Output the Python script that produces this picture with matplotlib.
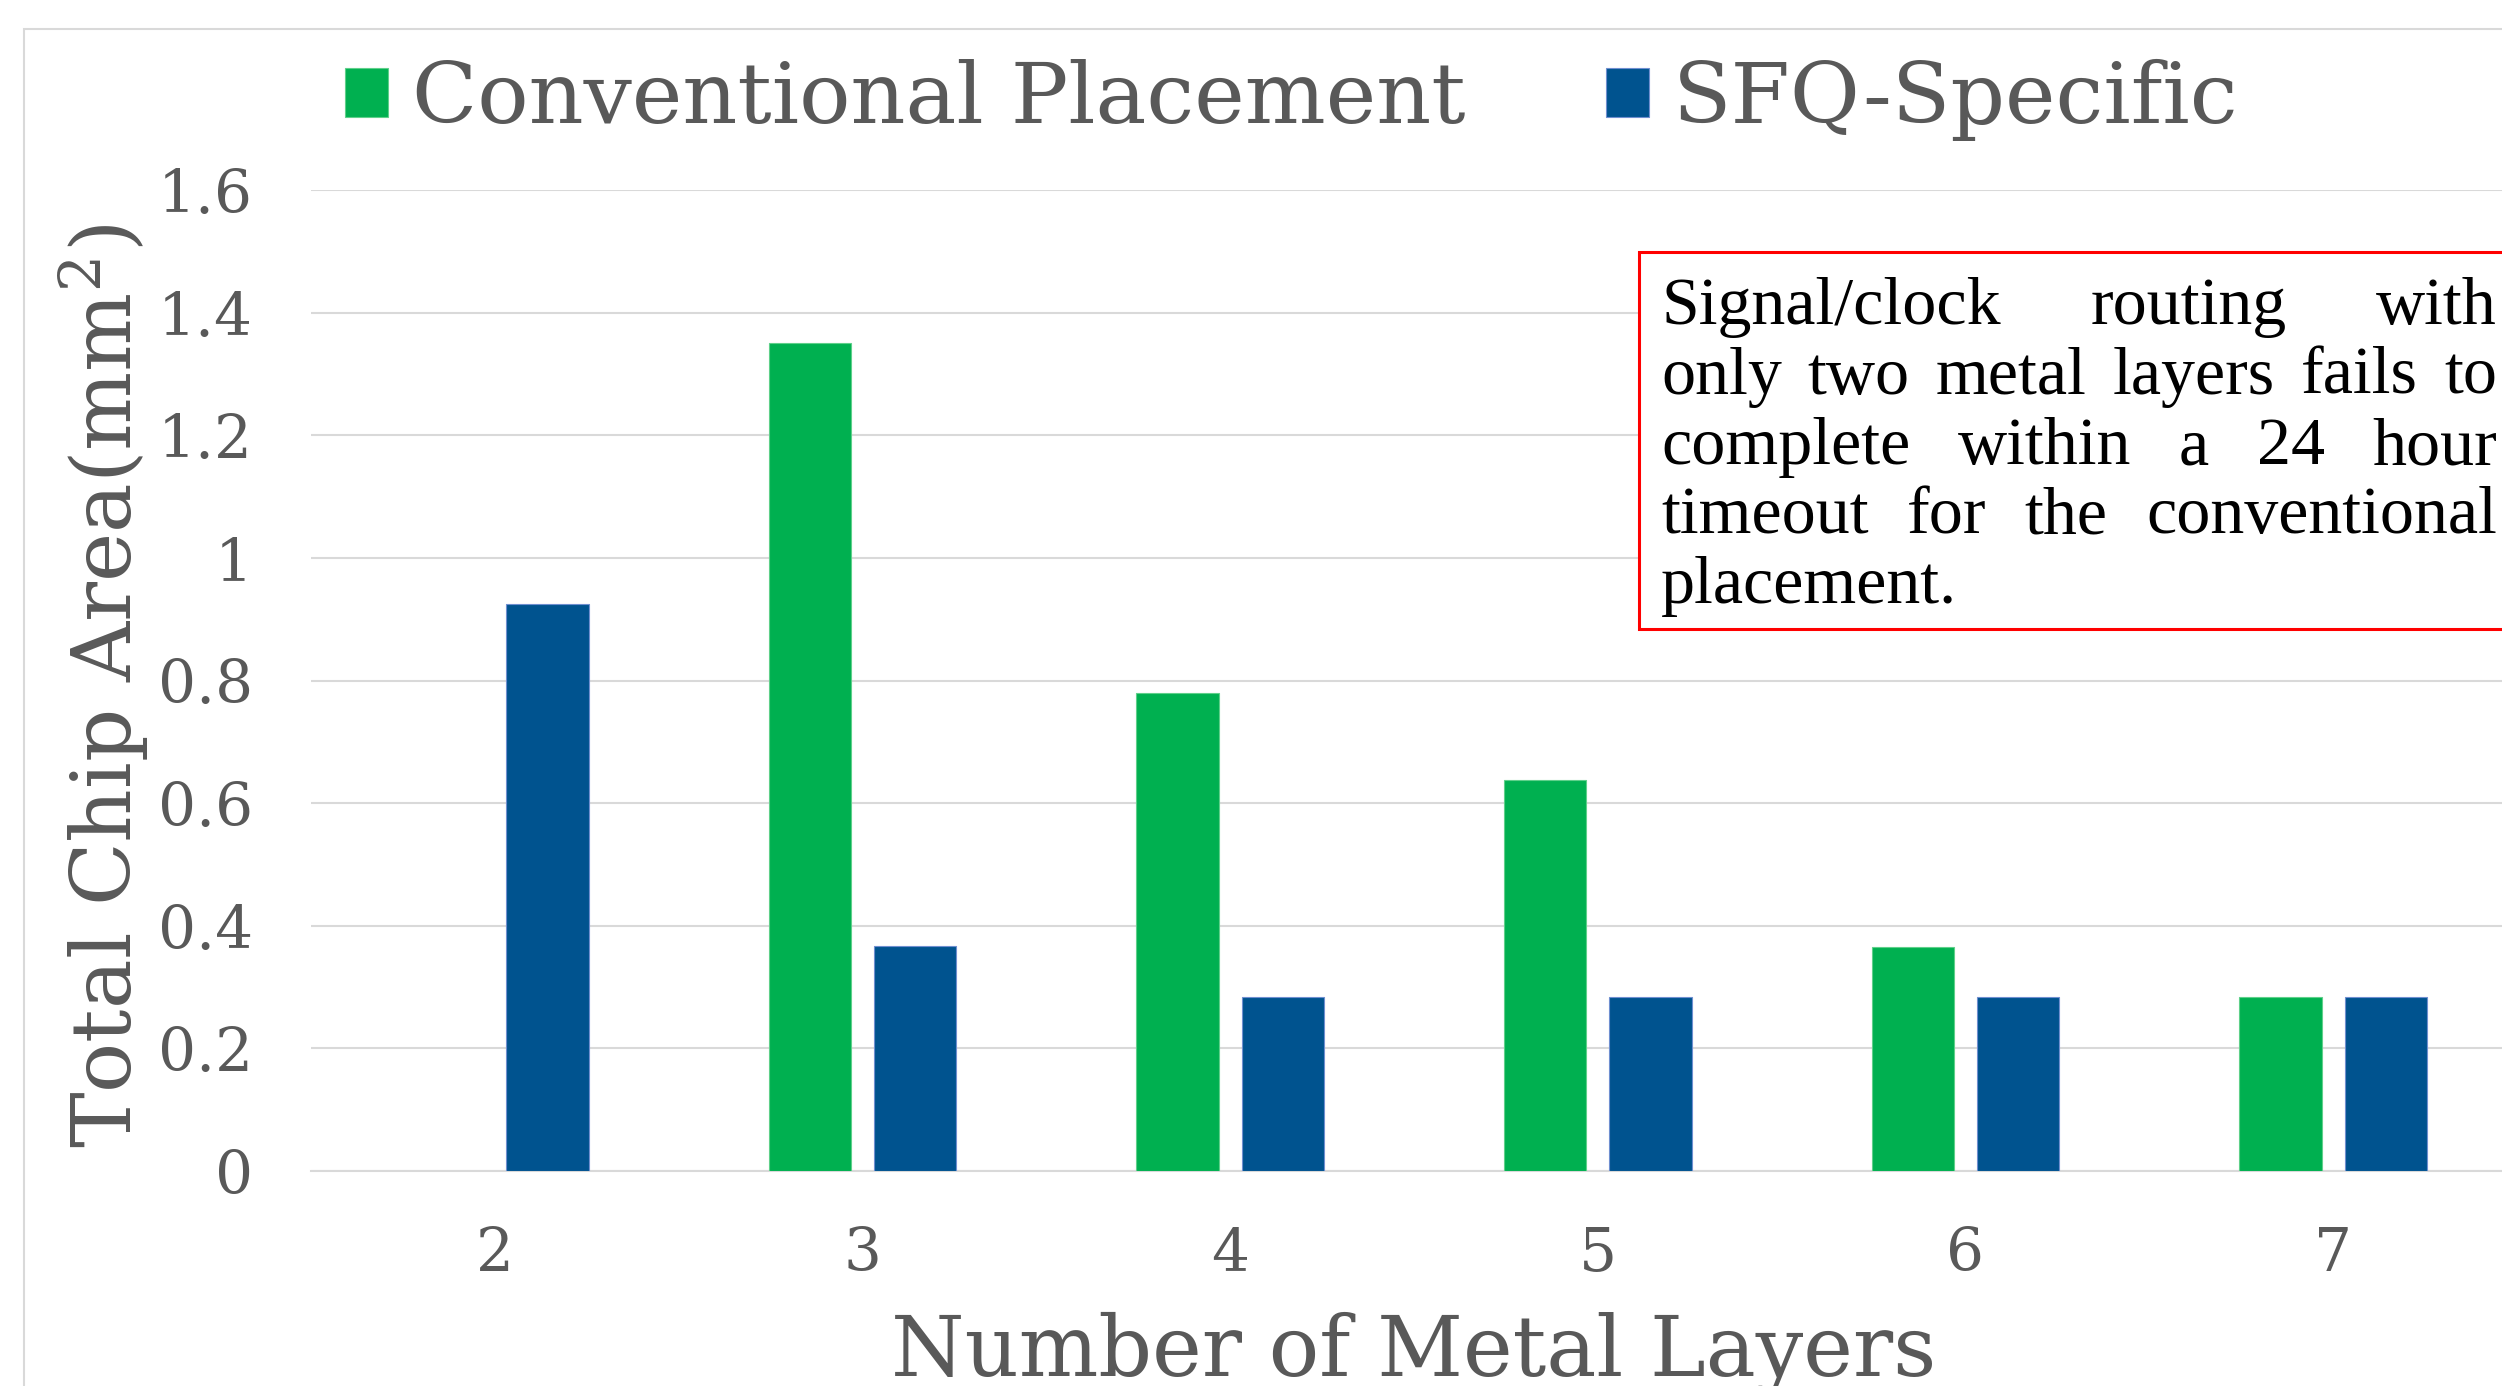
import matplotlib
matplotlib.use("Agg")
import matplotlib.pyplot as plt
from matplotlib.patches import Rectangle
import numpy as np

# ---- data ----
layers = [2, 3, 4, 5, 6, 7]
conventional = [np.nan, 1.35, 0.78, 0.637, 0.365, 0.284]
sfq_specific = [0.924, 0.367, 0.284, 0.284, 0.284, 0.284]
series_names = ["Conventional Placement", "SFQ-Specific"]
yticks = [0, 0.2, 0.4, 0.6, 0.8, 1.0, 1.2, 1.4, 1.6]
ytick_labels = ["0", "0.2", "0.4", "0.6", "0.8", "1", "1.2", "1.4", "1.6"]
note_lines = ["Signal/clock routing with",
              "only two metal layers fails to",
              "complete within a 24 hour",
              "timeout for the conventional",
              "placement."]

W, H = 2502, 1386
DPI = 100
GRAY = "#595959"
GREEN = "#00B050"
BLUE = "#00538F"
plt.rcParams["font.family"] = ["DejaVu Serif"]
plt.rcParams["mathtext.fontset"] = "dejavuserif"

fig = plt.figure(figsize=(W / DPI, H / DPI), dpi=DPI)
fig.patch.set_facecolor("white")

def fx(px):
    return px / W

def fy(py):
    return 1 - py / H

# outer chart frame (cropped on right and bottom)
fig.patches.append(Rectangle((fx(24), -0.2), 2, fy(29) + 0.2, transform=fig.transFigure,
                             fill=False, edgecolor="#D9D9D9", lw=1.5, zorder=0))

ax = fig.add_axes([fx(311), fy(1171), fx(2517) - fx(311), fy(190) - fy(1171)])
x = np.arange(len(layers))
bw = 0.224
off = 0.143
b1 = ax.bar(x - off, conventional, bw, color=GREEN, edgecolor="#5FD08A", lw=0.8,
            label=series_names[0], zorder=3)
b2 = ax.bar(x + off, sfq_specific, bw, color=BLUE, edgecolor="#6F8FD0", lw=0.8,
            label=series_names[1], zorder=3)

ax.set_xlim(-0.5, len(layers) - 0.5)
ax.set_ylim(0, 1.6)
ax.set_yticks(yticks)
ax.set_yticklabels(ytick_labels)
ax.set_xticks(x)
ax.set_xticklabels([str(v) for v in layers])
ax.tick_params(axis="y", length=0, pad=42, labelsize=43, labelcolor=GRAY)
ax.tick_params(axis="x", length=0, pad=39, labelsize=43, labelcolor=GRAY)
ax.yaxis.grid(True, color="#D9D9D9", lw=1.5, zorder=0)
ax.set_axisbelow(True)
for s in ["top", "right", "left"]:
    ax.spines[s].set_visible(False)
ax.spines["bottom"].set_color("#D9D9D9")
ax.spines["bottom"].set_linewidth(1.5)

# axis labels
fig.text(0.5 * (fx(311) + fx(2517)), fy(1376), "Number of Metal Layers", ha="center",
         va="baseline", fontsize=60.5, color=GRAY)
fig.text(fx(104), fy(686), "Total Chip Area(mm$^2$)", ha="center", va="center",
         rotation=90, fontsize=60, color=GRAY)

# legend
leg = fig.legend(handles=[b1, b2], loc="center", bbox_to_anchor=(fx(1292), fy(100)), ncol=2,
                 frameon=False, fontsize=61.5, handlelength=0.5, handleheight=0.5,
                 handletextpad=0.28, columnspacing=1.65, labelcolor=GRAY, borderpad=0)

# annotation box
fig.patches.append(Rectangle((fx(1639), fy(629)), fx(2560) - fx(1639), fy(252) - fy(629),
                             transform=fig.transFigure, fill=True, facecolor="white",
                             edgecolor="#FF0000", lw=2.2, zorder=5))
renderer = fig.canvas.get_renderer()
x0, x1 = 1661, 2497
baselines = [324, 394, 464, 533, 603]
note_family = ["Liberation Serif"]
note_fs = 49.0
# shrink if the widest line would not fit
for _ in range(20):
    t = fig.text(0, 0, note_lines[3], fontsize=note_fs, family=note_family)
    wdt = t.get_window_extent(renderer).width
    t.remove()
    if wdt <= (x1 - x0):
        break
    note_fs -= 0.5

for i, (line, by) in enumerate(zip(note_lines, baselines)):
    words = line.split(" ")
    last = (i == len(note_lines) - 1)
    if last:
        fig.text(fx(x0), fy(by), line, ha="left", va="baseline", fontsize=note_fs,
                 family=note_family, color="black", zorder=6)
        continue
    tobjs = [fig.text(0, 0, w, ha="left", va="baseline", fontsize=note_fs,
                      family=note_family, color="black", zorder=6) for w in words]
    widths = [t.get_window_extent(renderer).width for t in tobjs]
    gap = (x1 - x0 - sum(widths)) / max(len(words) - 1, 1)
    cx = x0
    for t, wd in zip(tobjs, widths):
        t.set_position((fx(cx), fy(by)))
        cx += wd + gap

fig.savefig("out.png", dpi=DPI, facecolor="white")
